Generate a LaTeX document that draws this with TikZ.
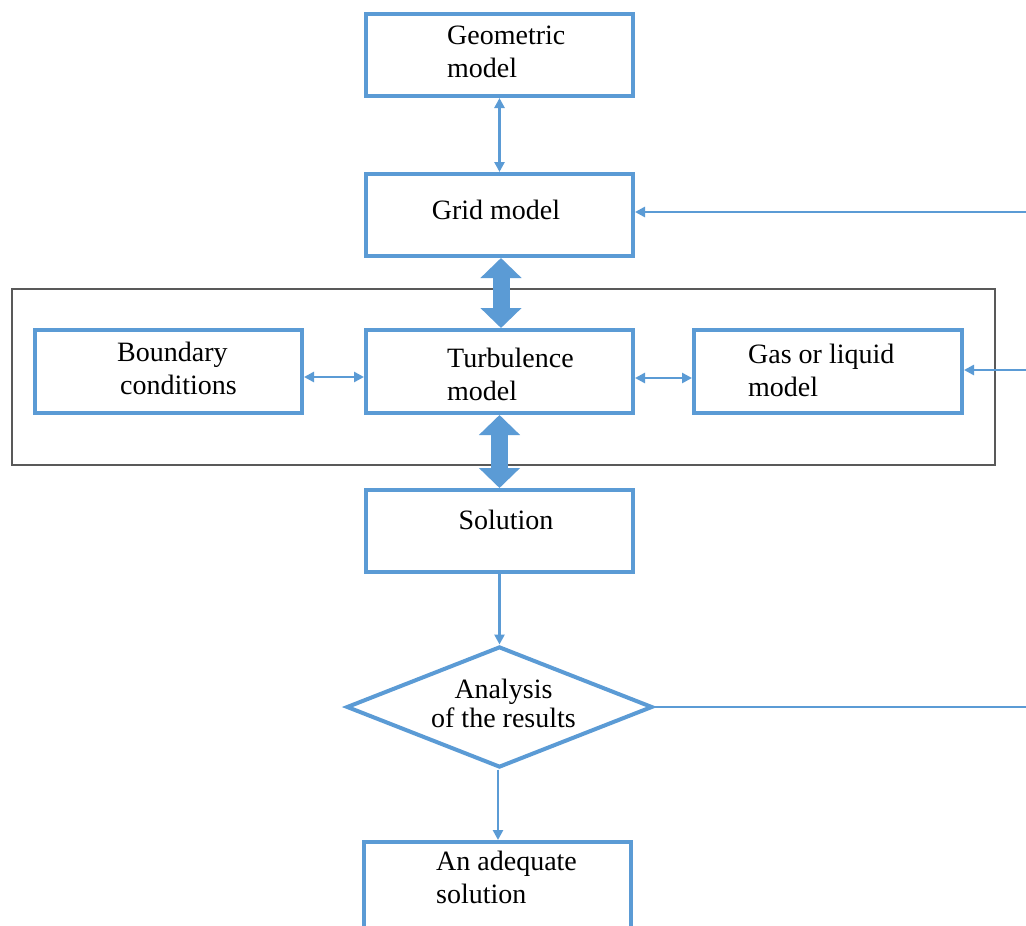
\documentclass[tikz,border=0pt]{standalone}
\usepackage{fontspec}
\setmainfont{Liberation Serif}
\usetikzlibrary{arrows.meta,shapes.geometric}
\definecolor{cblue}{HTML}{5B9BD5}
\definecolor{cgray}{HTML}{595959}
\begin{document}
\begin{tikzpicture}[x=1pt,y=-1pt,
  box/.style={draw=cblue,line width=4pt,minimum width=267pt,minimum height=82pt,inner sep=0pt},
  tx/.style={font=\fontsize{28}{33}\selectfont,inner sep=0pt,align=left,anchor=base west},
  txc/.style={font=\fontsize{28}{33}\selectfont,inner sep=0pt,align=center,anchor=base},
  thinarr/.style={draw=cblue,line width=2.5pt,-{Triangle[width=10pt,length=10pt]}},
  dblarr/.style={draw=cblue,line width=2.5pt,{Triangle[width=10pt,length=10pt]}-{Triangle[width=10pt,length=10pt]}},
  thickarr/.style={draw=cblue,line width=17pt,{Triangle[width=40pt,length=20pt]}-{Triangle[width=40pt,length=20pt]}},
  plain/.style={draw=cblue,line width=2.5pt}]
\clip (0,0) rectangle (1026,926);
\fill[white] (0,0) rectangle (1026,926);
% group frame
\node (grp) [draw=cgray,line width=2pt,minimum width=983pt,minimum height=176pt,inner sep=0pt] at (503.5,377) {};
% boxes
\node (geo) [box] at (499.5,55) {};
\node (grid) [box] at (499.5,215) {};
\node (bnd) [box,minimum height=83pt] at (168.5,371.5) {};
\node (tur) [box,minimum height=83pt] at (499.5,371.5) {};
\node (gas) [box,minimum width=268pt,minimum height=83pt] at (828,371.5) {};
\node (sol) [box] at (499.5,531) {};
\node (dia) [draw=cblue,line width=4pt,diamond,minimum width=306pt,minimum height=121pt,inner sep=0pt] at (499.5,707) {};
\node (ade) [box,minimum height=88pt] at (497.5,886) {};
% texts (base anchor = baseline of the last line)
\node (geot) [tx] at (447,77) {Geometric\\model};
\node (gridt) [txc] at (496,219) {Grid model};
\node (bndt) [tx] at (117,394) {Boundary\\\hspace*{3pt}conditions};
\node (turt) [tx] at (447,400) {Turbulence\\model};
\node (gast) [tx] at (748,396) {Gas or liquid\\model};
\node (solt) [txc] at (506,529) {Solution};
\node (diat) [txc,font=\fontsize{28}{29}\selectfont] at (503.5,727) {Analysis\\of the results};
\node (adet) [tx] at (436,903) {An adequate\\solution};
% connectors
\draw[dblarr] (geo.south) -- (grid.north);
\draw[thickarr] ([xshift=1.5pt]grid.south) -- ([xshift=1.5pt]tur.north);
\draw[thickarr] (tur.south) -- (sol.north);
\draw[dblarr] ([yshift=-5.5pt]bnd.east) -- ([yshift=-5.5pt]tur.west);
\draw[dblarr] ([yshift=-6.5pt]tur.east) -- ([yshift=-6.5pt]gas.west);
\draw[thinarr] (sol.south) -- (dia.north);
\draw[thinarr] ([xshift=-1.5pt]dia.south) -- ([xshift=-1.5pt]dia.south |- ade.north);
\coordinate (r1) at (1026,212);
\coordinate (r2) at (1026,370);
\coordinate (r3) at (1026,707);
\draw[thinarr] (r1) -- (r1 -| grid.east);
\draw[thinarr] (r2) -- (r2 -| gas.east);
\draw[plain] (dia.east) -- (r3);
\end{tikzpicture}
\end{document}
